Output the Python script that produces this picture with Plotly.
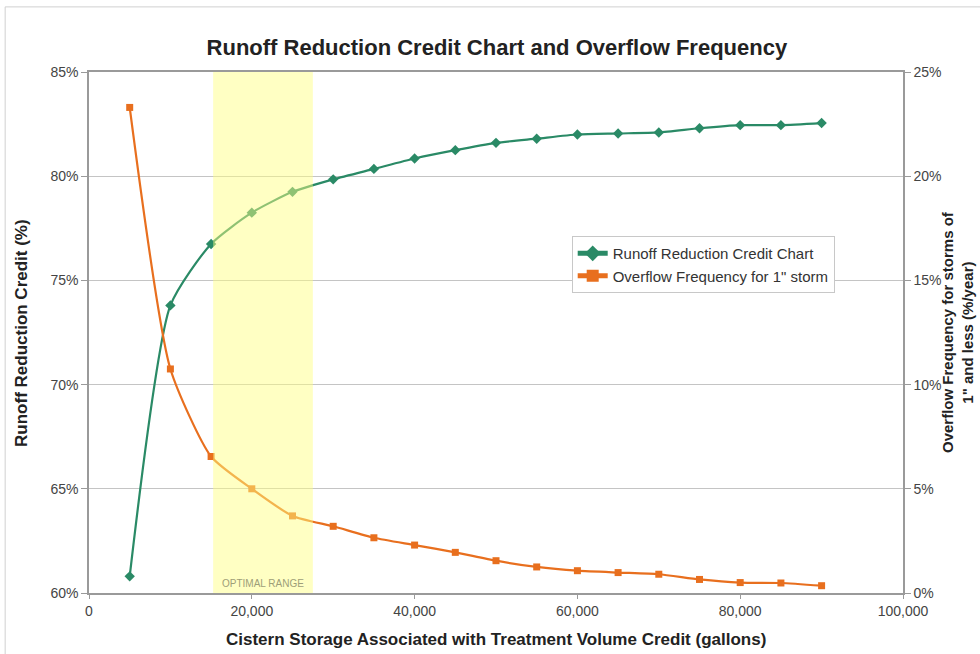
import plotly.graph_objects as go

# Cistern storage volumes (gallons)
storage = [5000, 10000, 15000, 20000, 25000, 30000, 35000, 40000, 45000,
           50000, 55000, 60000, 65000, 70000, 75000, 80000, 85000, 90000]

# Runoff reduction credit (%), left axis
runoff_credit = [60.8, 73.8, 76.75, 78.25, 79.25, 79.85, 80.35, 80.85, 81.25,
                 81.6, 81.8, 82.0, 82.05, 82.1, 82.3, 82.45, 82.45, 82.55]

# Overflow frequency for 1" storm (%/year), right axis
overflow_freq = [23.3, 10.75, 6.55, 5.0, 3.7, 3.2, 2.65, 2.3, 1.95,
                 1.55, 1.25, 1.07, 0.98, 0.9, 0.65, 0.5, 0.48, 0.35]

# Highlighted storage range
optimal_range = [15250, 27500]

x_ticks = [0, 20000, 40000, 60000, 80000, 100000]

GREEN = "#2A8A66"
ORANGE = "#E86F1E"
AXIS_GRAY = "#9A9A9A"
FONT = "Arial, Liberation Sans, sans-serif"

fig = go.Figure()

fig.add_trace(go.Scatter(
    x=storage, y=runoff_credit, name="Runoff Reduction Credit Chart",
    mode="lines+markers", line=dict(color=GREEN, width=2.2, shape="spline", smoothing=0.6),
    marker=dict(symbol="diamond", size=8, color=GREEN), yaxis="y"))

fig.add_trace(go.Scatter(
    x=storage, y=overflow_freq, name="Overflow Frequency for 1\" storm",
    mode="lines+markers", line=dict(color=ORANGE, width=2.2, shape="spline", smoothing=0.6),
    marker=dict(symbol="square", size=7, color=ORANGE), yaxis="y2"))

# Semi-transparent band over the optimal range
fig.add_shape(type="rect", xref="x", yref="paper",
              x0=optimal_range[0], x1=optimal_range[1], y0=0, y1=1,
              fillcolor="rgba(255,255,130,0.48)", line=dict(width=0), layer="above")

fig.add_annotation(x=(optimal_range[0] + optimal_range[1]) / 2, y=60.45, xref="x", yref="y",
                   text="OPTIMAL RANGE", showarrow=False,
                   font=dict(family=FONT, size=10, color="#9E9E78"))

# Outer chart frame
fig.add_shape(type="rect", xref="paper", yref="paper",
              x0=-0.103, x1=1.2, y0=-0.2, y1=1.125,
              line=dict(color="#D0D0D0", width=1), layer="below")

# Axis titles
fig.add_annotation(x=-0.083, y=0.5, xref="paper", yref="paper", textangle=-90,
                   xanchor="center", yanchor="middle",
                   text="<b>Runoff Reduction Credit (%)</b>", showarrow=False,
                   font=dict(family=FONT, size=17, color="#222"))
fig.add_annotation(x=1.067, y=0.5, xref="paper", yref="paper", textangle=-90,
                   xanchor="center", yanchor="middle",
                   text="<b>Overflow Frequency for storms of<br>1\" and less (%/year)</b>",
                   showarrow=False, font=dict(family=FONT, size=15, color="#222"))
fig.add_annotation(x=0.5, y=-0.09, xref="paper", yref="paper",
                   xanchor="center", yanchor="middle",
                   text="<b>Cistern Storage Associated with Treatment Volume Credit (gallons)</b>",
                   showarrow=False, font=dict(family=FONT, size=17, color="#222"))

fig.update_layout(
    width=980, height=654,
    margin=dict(l=89, r=77, t=72, b=61),
    paper_bgcolor="white", plot_bgcolor="white",
    font=dict(family=FONT, size=14, color="#444"),
    title=dict(text="<b>Runoff Reduction Credit Chart and Overflow Frequency</b>",
               x=0.507, xanchor="center", y=1 - 47 / 654, yanchor="middle",
               font=dict(family=FONT, size=22, color="#222")),
    xaxis=dict(range=[0, 100000], tickvals=x_ticks, tickformat=",",
               showgrid=False, zeroline=False,
               showline=True, linecolor=AXIS_GRAY, linewidth=1.5, mirror=True,
               ticks="outside", ticklen=4, tickcolor=AXIS_GRAY),
    yaxis=dict(range=[60, 85], dtick=5, ticksuffix="%",
               showgrid=True, gridcolor="#C4C4C4", gridwidth=1, zeroline=False,
               showline=True, linecolor=AXIS_GRAY, linewidth=1.5, mirror=True,
               ticks="outside", ticklen=6, tickcolor=AXIS_GRAY),
    yaxis2=dict(range=[0, 25], dtick=5, ticksuffix="%", overlaying="y", side="right",
                showgrid=False, zeroline=False,
                showline=True, linecolor=AXIS_GRAY, linewidth=1.5,
                ticks="outside", ticklen=6, tickcolor=AXIS_GRAY),
    legend=dict(x=0.593, y=0.685, xanchor="left", yanchor="top",
                bgcolor="white", bordercolor="#C8C8C8", borderwidth=1,
                font=dict(family=FONT, size=15, color="#333"),
                tracegroupgap=0, itemsizing="constant"),
    showlegend=True,
)

fig.write_html("out.html")
